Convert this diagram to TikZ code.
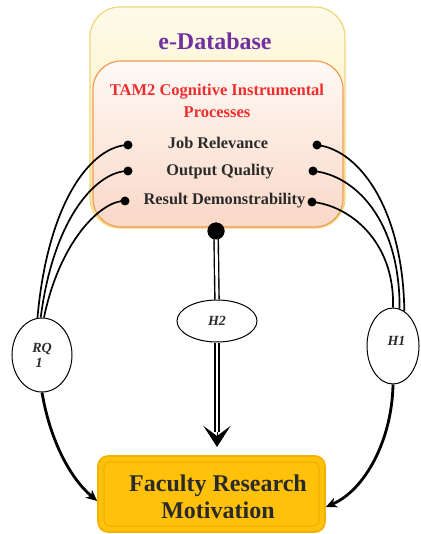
\documentclass[tikz,border=0pt]{standalone}
\usepackage{fontspec}
\setmainfont{Liberation Serif}
\usetikzlibrary{shapes.geometric,arrows.meta,calc}
\definecolor{purp}{HTML}{7030A0}
\definecolor{tamred}{HTML}{EE2E2E}
\definecolor{ink}{HTML}{2A2A2A}
\definecolor{outerfillT}{HTML}{FFFBEA}
\definecolor{outerfillB}{HTML}{F9EAAE}
\definecolor{outerline}{HTML}{F2D57A}
\definecolor{innerfillT}{HTML}{FFF9F5}
\definecolor{innerfillB}{HTML}{F9D8C7}
\definecolor{innerline}{HTML}{EF9C55}
\definecolor{goldfill}{HTML}{FFC10A}
\definecolor{goldline}{HTML}{F3B100}
\definecolor{goldin}{HTML}{E3A400}
\tikzset{
  outerbox/.style={draw=outerline, line width=1.2pt, rounded corners=30pt,
    top color=outerfillT, bottom color=outerfillB, inner sep=0pt},
  innerbox/.style={draw=innerline, line width=1.2pt, rounded corners=28pt,
    top color=innerfillT, bottom color=innerfillB, inner sep=0pt},
  goldbox/.style={draw=goldline, line width=1.6pt, rounded corners=10pt,
    fill=goldfill, inner sep=0pt},
  goldinner/.style={draw=goldin, line width=0.6pt, rounded corners=6pt, inner sep=0pt},
  titletext/.style={font=\fontsize{24}{27}\selectfont\bfseries, text=purp, inner sep=0pt},
  redtext/.style={font=\fontsize{16.5}{22}\selectfont\bfseries, text=tamred, align=center, inner sep=0pt},
  itemtext/.style={font=\fontsize{16.3}{20}\selectfont\bfseries, text=ink, inner sep=0pt},
  bigtext/.style={font=\fontsize{24}{27}\selectfont\bfseries, text=ink, align=center, inner sep=0pt},
  dotnode/.style={circle, fill=black, inner sep=0pt, minimum size=9pt},
  bigdot/.style={circle, fill=black, inner sep=0pt, minimum size=17pt},
  hyp/.style={ellipse, draw=black, line width=1pt, fill=white, inner sep=0pt,
    font=\fontsize{14}{16}\selectfont\bfseries\itshape, text=ink, align=center},
  curvelink/.style={draw=black, line width=1.7pt},
  thickarrow/.style={draw=black, line width=2.8pt, -{Stealth[length=11pt,width=10pt,inset=3pt]}},
  dbl/.style={draw=black, double=white, double distance=2.8pt, line width=1.4pt},
  bighead/.style={draw=black, line width=1pt, -{Stealth[length=21pt,width=27pt,inset=10pt]}}
}
\begin{document}
\begin{tikzpicture}[x=1pt,y=-1pt]
\useasboundingbox (0,0) rectangle (420,534);

% boxes
\node[outerbox, minimum width=255pt, minimum height=221pt] (db) at (217.5,117.5) {};
\node[innerbox, minimum width=250pt, minimum height=166pt] (tam) at (218,144) {};
\node[titletext] (dbtitle) at (215,41) {e-Database};
\node[redtext] (tamtitle) at (217,101) {TAM2 Cognitive Instrumental\\Processes};
\node[itemtext] (jr) at (218,143) {Job Relevance};
\node[itemtext] (oq) at (220,172) {Output Quality};
\node[itemtext] (rd) at (224.5,201) {Result Demonstrability};

% dots
\node[dotnode] (l1) at (128,145) {};
\node[dotnode] (l2) at (128,171) {};
\node[dotnode] (l3) at (125,201) {};
\node[dotnode] (r1) at (317,145) {};
\node[dotnode] (r2) at (313,171) {};
\node[dotnode] (r3) at (312,202) {};

% ellipses
\node[hyp, minimum width=60pt, minimum height=74pt] (rq) at (42,355) {RQ\\[-1pt]\hspace*{-6pt}1};
\node[hyp, minimum width=80pt, minimum height=42pt] (h2) at (217,321) {H2};
\node[hyp, minimum width=52pt, minimum height=76pt] (h1) at (393,346) {\raisebox{10pt}{\hspace*{7pt}H1}};

% bottom box
\node[goldbox, minimum width=227pt, minimum height=76pt] (fac) at (211.5,494) {};
\node[goldinner, minimum width=215pt, minimum height=64pt] (facin) at (211.5,494) {};
\node[bigtext] (factext) at (218,496.5) {Faculty Research\\Motivation};

% left curves
\path[curvelink] (l1.center) .. controls (92,146) and (48,200) .. (rq.97);
\path[curvelink] (l2.center) .. controls (98,171) and (54,215) .. (rq.92);
\path[curvelink] (l3.center) .. controls (102,200) and (60,240) .. (rq.87);

% right curves
\path[curvelink] (r1.center) .. controls (360,150) and (403,210) .. (h1.72);
\path[curvelink] (r2.center) .. controls (355,175) and (400,220) .. (h1.80);
\path[curvelink] (r3.center) .. controls (348,205) and (395,240) .. (h1.90);

% bottom arrows
\draw[thickarrow] (rq.south) .. controls (50,440) and (70,478) .. ([yshift=-7pt]fac.west);
\draw[thickarrow] (h1.south) .. controls (392,440) and (365,490) .. ([yshift=-13pt]fac.east);

% middle double connector
\coordinate (tipbase) at (217,432);
\coordinate (tip) at (217,447);
\node[bigdot] (bd) at (216,231) {};
\draw[dbl] (bd.center) -- (h2.north);
\draw[dbl] (h2.south) -- (tipbase);
\draw[bighead] (tipbase) -- (tip);
\node[bigdot] (bdtop) at (bd.center) {};
\end{tikzpicture}
\end{document}
